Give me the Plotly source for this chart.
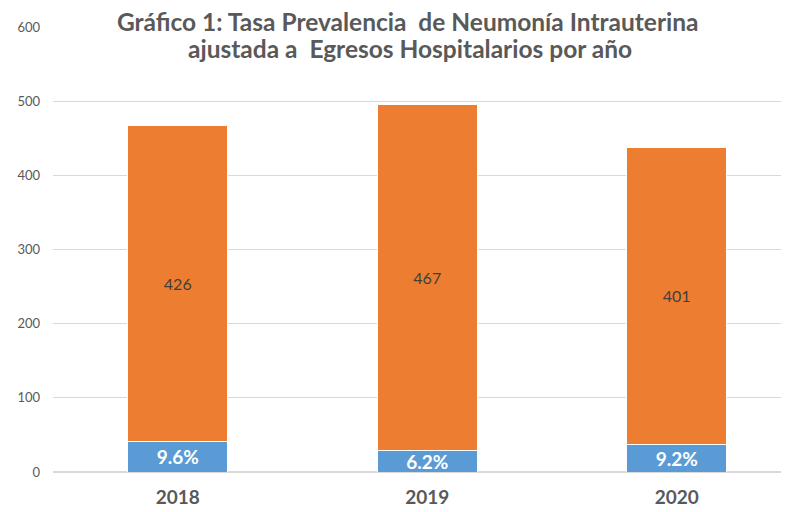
import plotly.graph_objects as go

years = ["2018", "2019", "2020"]
neumonia = [41, 29, 37]
egresos = [426, 467, 401]
pct_labels = ["9.6%", "6.2%", "9.2%"]
y_ticks = [0, 100, 200, 300, 400, 500, 600]

PLOT_H = 445

fig = go.Figure()
fig.add_trace(go.Bar(
    x=years, y=neumonia, name="Neumonía",
    marker=dict(color="#5B9BD5", line=dict(color="white", width=1)),
    text=pct_labels, textposition="inside", insidetextanchor="middle",
    textfont=dict(family="Lato", size=19, color="white", weight="bold"),
    constraintext="none", width=0.4,
))
fig.add_trace(go.Bar(
    x=years, y=egresos, name="Egresos",
    marker=dict(color="#ED7D31", line=dict(color="white", width=1)),
    text=[str(v) for v in egresos], textposition="inside", insidetextanchor="middle",
    textfont=dict(family="Lato", size=16, color="#404040"),
    constraintext="none", width=0.4,
))

fig.update_layout(
    barmode="stack",
    width=789, height=512,
    margin=dict(l=45, r=8, t=19, b=48),
    plot_bgcolor="white", paper_bgcolor="white",
    showlegend=False,
    xaxis=dict(type="category", range=[-0.5, 2.45], showgrid=False, showline=False,
               tickfont=dict(family="Lato", size=19, color="#595959", weight="bold"),
               ticklabelstandoff=12),
    yaxis=dict(range=[0, 600], tickvals=y_ticks, showgrid=True, gridcolor="#D9D9D9",
               gridwidth=1, zeroline=True, zerolinecolor="#D9D9D9", showline=False,
               tickfont=dict(family="Lato", size=13, color="#595959"),
               ticklabelstandoff=12),
    annotations=[
        dict(text="Gráfico 1: Tasa Prevalencia  de Neumonía Intrauterina", xref="paper", yref="paper",
             x=(407.5 - 53) / 736, y=1 + 5 / PLOT_H, showarrow=False, xanchor="center", yanchor="middle",
             font=dict(family="Lato", size=24.5, color="#595959", weight="bold")),
        dict(text="ajustada a  Egresos Hospitalarios por año", xref="paper", yref="paper",
             x=(410 - 53) / 736, y=1 - 22 / PLOT_H, showarrow=False, xanchor="center", yanchor="middle",
             font=dict(family="Lato", size=24.5, color="#595959", weight="bold")),
    ],
)

fig.write_html("out.html")
